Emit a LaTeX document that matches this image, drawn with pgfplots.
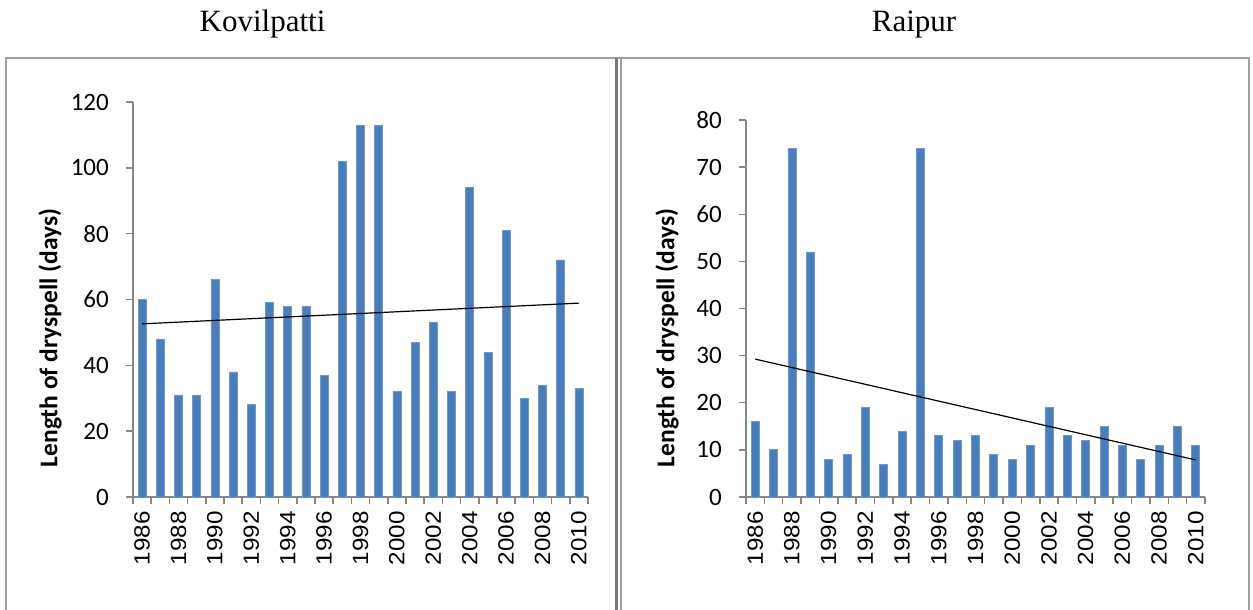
\documentclass[border=0pt]{standalone}
\usepackage{pgfplots}
\pgfplotsset{compat=1.18}
\usepackage{fontspec}
\setmainfont{Liberation Serif}
\newfontfamily\carlito{Carlito}
\newfontfamily\arialf[FakeStretch=1.1]{Liberation Sans}
\definecolor{barblue}{RGB}{74,126,187}
\definecolor{barlight}{RGB}{112,152,206}
\definecolor{axgray}{RGB}{134,134,134}
\definecolor{boxgray}{RGB}{160,160,160}
\definecolor{sepgray}{RGB}{120,120,120}

\pgfplotsset{
  drystyle/.style={
    scale only axis, ybar, bar width=8pt,
    xmin=-0.5, xmax=24.5, ymin=0,
    axis x line*=bottom, axis y line*=left,
    axis line style={axgray, line width=1.5pt, -},
    every tick/.style={axgray, line width=1.5pt},
    tick align=outside, major tick length=7pt,
    xtick={-0.5,0.5,...,24.5}, xticklabels={},
    extra x ticks={0,2,...,24},
    extra x tick labels={1986,1988,1990,1992,1994,1996,1998,2000,2002,2004,2006,2008,2010},
    extra x tick style={major tick length=0pt},
    xticklabel style={yshift=-14pt, rotate=90, anchor=east, inner sep=0pt, font=\arialf\fontsize{22}{22}\selectfont},
    yticklabel style={anchor=east, inner sep=0pt, font=\carlito\fontsize{25}{25}\selectfont, xshift=-17pt},
    ylabel={Length of dryspell (days)},
    ylabel style={font=\carlito\bfseries\fontsize{25.5}{25.5}\selectfont, anchor=center},
    clip=false,
  }
}

\begin{document}
\begin{tikzpicture}[x=1pt,y=1pt]
\path[use as bounding box] (0,0) rectangle (1253,610);
% panel frames
\draw[boxgray, line width=2.5pt] (6,0) -- (6,552) -- (1249,552) -- (1249,0);
\draw[sepgray, line width=3pt] (616.5,0) -- (616.5,552);
\draw[boxgray, line width=2pt] (621,0) -- (621,552);
% titles
\node[anchor=base, font=\fontsize{31}{31}\selectfont, inner sep=0pt] at (262.5,578) {Kovilpatti};
\node[anchor=base, font=\fontsize{31}{31}\selectfont, inner sep=0pt] at (914,578) {Raipur};

\begin{axis}[drystyle,
  at={(133pt,113pt)}, anchor=south west,
  width=455pt, height=395pt, ymax=120,
  ytick={0,20,...,120}, yticklabels={0,20,40,60,80,100,120},
  ylabel style={at={(axis description cs:-0.182,0.4025)}}]
\addplot[fill=barblue, draw=barlight, line width=0.8pt] coordinates {
(0,60) (1,48) (2,31) (3,31) (4,66) (5,38) (6,28) (7,59) (8,58) (9,58)
(10,37) (11,102) (12,113) (13,113) (14,32) (15,47) (16,53) (17,32) (18,94) (19,44)
(20,81) (21,30) (22,34) (23,72) (24,33)};
\addplot[sharp plot, black, line width=1.2pt, mark=none] coordinates {(0,52.6) (24,58.9)};
\end{axis}

\begin{axis}[drystyle,
  at={(746pt,113pt)}, anchor=south west,
  width=459pt, height=377pt, ymax=80,
  ytick={0,10,...,80}, yticklabels={0,10,20,30,40,50,60,70,80},
  ylabel style={at={(axis description cs:-0.172,0.4218)}}]
\addplot[fill=barblue, draw=barlight, line width=0.8pt] coordinates {
(0,16) (1,10) (2,74) (3,52) (4,8) (5,9) (6,19) (7,7) (8,14) (9,74)
(10,13) (11,12) (12,13) (13,9) (14,8) (15,11) (16,19) (17,13) (18,12) (19,15)
(20,11) (21,8) (22,11) (23,15) (24,11)};
\addplot[sharp plot, black, line width=1.2pt, mark=none] coordinates {(0,29.26) (24,7.86)};
\end{axis}
\end{tikzpicture}
\end{document}
